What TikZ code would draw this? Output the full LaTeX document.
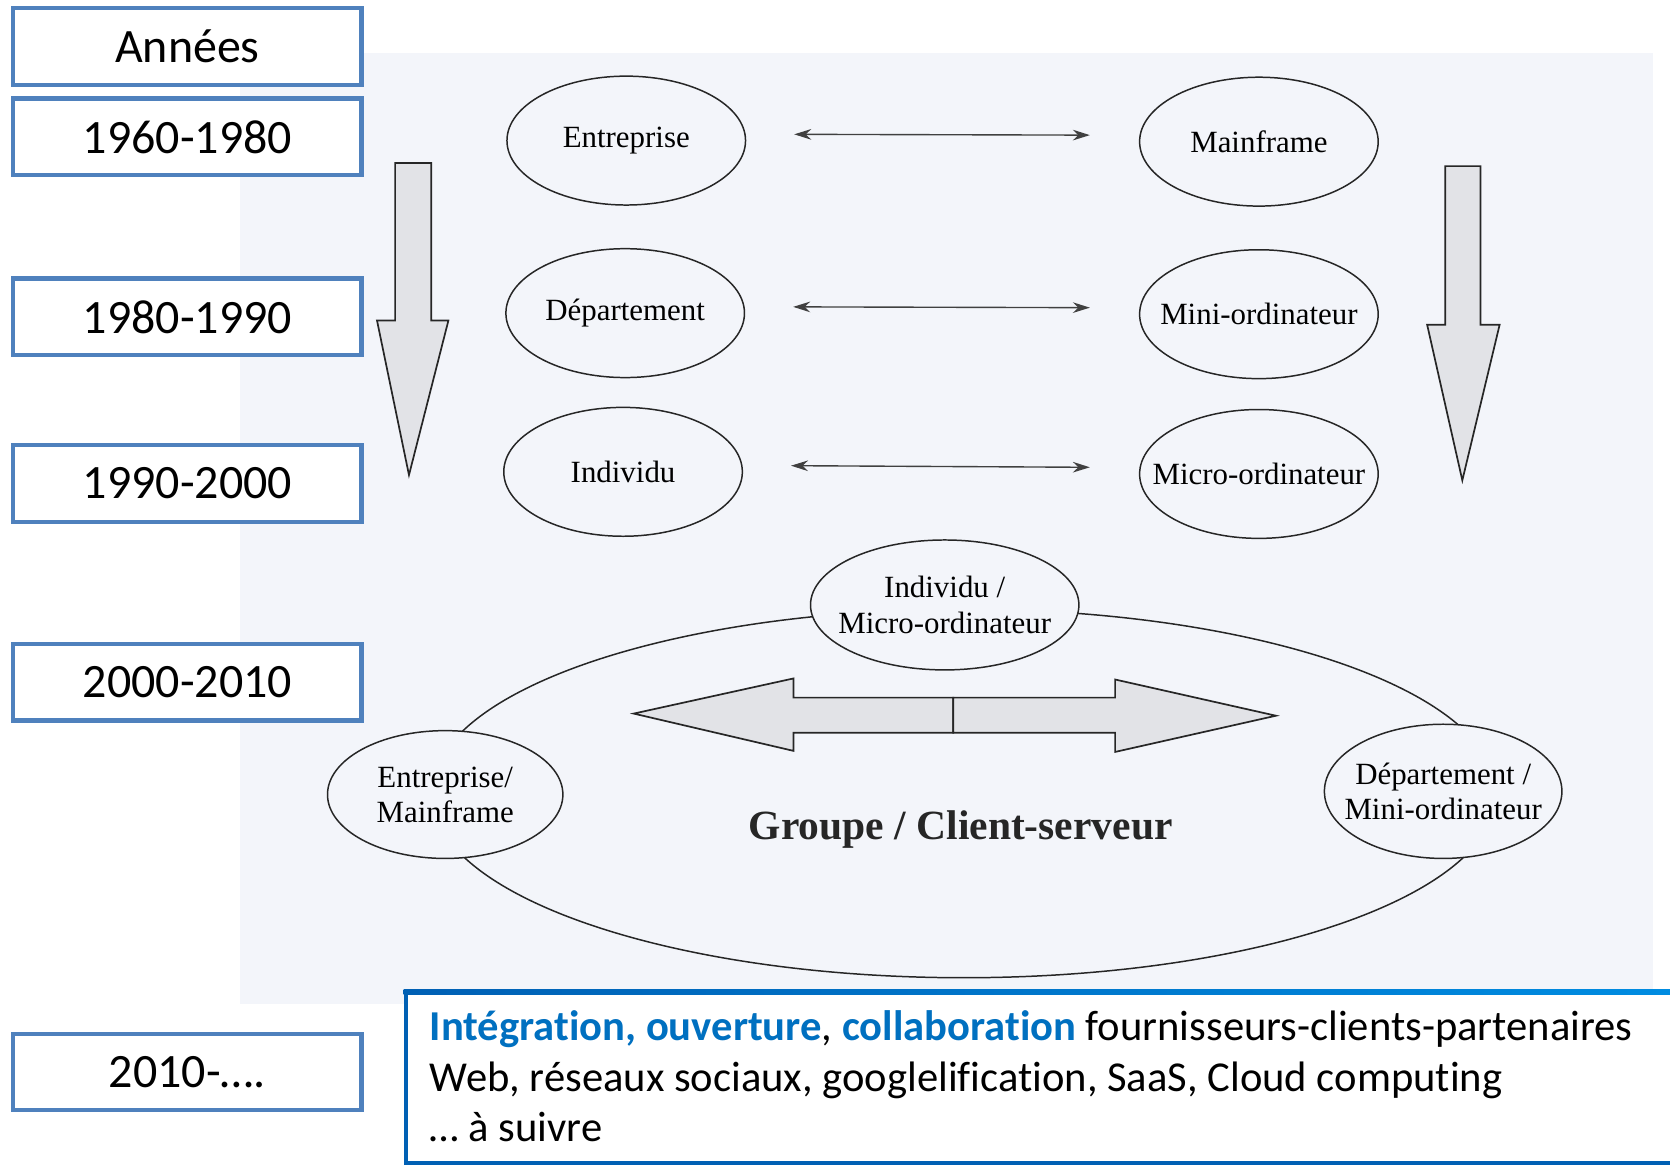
\documentclass[tikz,border=0pt]{standalone}
\usepackage{fontspec}
\setmainfont{Liberation Serif}
\newfontfamily\carlito[Ligatures=NoCommon]{Carlito}
\usetikzlibrary{positioning,arrows.meta,calc,shapes.geometric}
\definecolor{yearblue}{RGB}{79,129,189}
\definecolor{scanbg}{RGB}{243,245,250}
\definecolor{arrowgray}{RGB}{226,227,231}
\definecolor{keyblue}{RGB}{0,112,192}
\definecolor{framedark}{RGB}{0,96,180}
\definecolor{framelight}{RGB}{0,140,225}
\tikzset{
  year/.style={rectangle, draw=yearblue, line width=4pt, fill=white, minimum width=327pt, minimum height=72pt, font=\carlito\fontsize{45}{54}\selectfont},
  era/.style={ellipse, draw=black!85, line width=1.4pt, minimum width=224pt, minimum height=121pt, inner xsep=-30pt, inner ysep=0pt, font=\fontsize{29}{33}\selectfont, align=center},
  link/.style={{Stealth[length=16pt,width=10pt]}-{Stealth[length=16pt,width=10pt]}, line width=1.3pt, draw=black!75, shorten <=45pt, shorten >=46pt},
  bigarrow/.style={draw=black!85, line width=1.6pt, fill=arrowgray, line join=miter},
  trend/.style={anchor=base west, font=\carlito\fontsize{40}{48}\selectfont}
}

\begin{document}
\begin{tikzpicture}[x=1pt, y=-1pt]
      \useasboundingbox (0,0) rectangle (1568,1094);
      \fill[white] (0,0) rectangle (1568,1094);
      \fill[scanbg] (225,50) rectangle (1552,943);

      % years
      \node[year] (Annees) at (176,43.5) {Années};
      \node[year] (Y1960) at (176,128.5) {1960-1980};
      \node[year] (Y1980) at (176,297.5) {1980-1990};
      \node[year] (Y1990) at (176,454) {1990-2000};
      \node[year] (Y2000) at (176,640.5) {2000-2010};
      \node[year] (Y2010) at (176,1006.5) {2010-….};

      % organisation / machine pairs
      \node[era] (Ent) at (588,132) {Entreprise};
      \node[era] (Main) at (1182,133) {Mainframe};
      \node[era] (Dep) at (587,294) {Département};
      \node[era] (Mini) at (1182,295) {Mini-ordinateur};
      \node[era] (Ind) at (585,443) {Individu};
      \node[era] (Micro) at (1182,445) {Micro-ordinateur};
      \draw[link] ([yshift=6pt]Ent.east) -- ([yshift=6pt]Main.west);
      \draw[link] ([yshift=6pt]Dep.east) -- ([yshift=6pt]Mini.west);
      \draw[link] ([yshift=6pt]Ind.east) -- ([yshift=6pt]Micro.west);

      % time arrows
      \draw[bigarrow] (371,153) -- (405,153) -- (405,301) -- (421,301)
            -- (384,446) -- (354,301) -- (371,301) -- cycle;
      \draw[bigarrow] (1357,156) -- (1390,156) -- (1390,305) -- (1408,305)
            -- (1373,451) -- (1340,305) -- (1357,305) -- cycle;

      % client-server ring
      \node[ellipse, draw=black!85, line width=1.4pt, minimum width=1000pt, minimum height=346pt] (Ring) at (905,745) {};
      \node[era, fill=scanbg, minimum width=252pt, minimum height=122pt] (IndMicro) at (887,568) {Individu /\\Micro-ordinateur};
      \node[era, fill=scanbg, minimum width=221pt, minimum height=120pt] (EntMain) at (418,746) {Entreprise/\\Mainframe};
      \node[era, fill=scanbg, minimum width=223pt, minimum height=126pt] (DepMini) at (1355,743) {Département /\\Mini-ordinateur};
      \draw[bigarrow] (895,655) -- (745,655) -- (745,637) -- (595,670)
            -- (745,705) -- (745,688) -- (895,688) -- cycle;
      \draw[bigarrow] (895,655) -- (1047,655) -- (1047,638) -- (1198,672)
            -- (1047,706) -- (1047,688) -- (895,688) -- cycle;
      \node[anchor=base, font=\bfseries\fontsize{39}{44}\selectfont, text=black!85] (Groupe) at (902,788) {Groupe / Client-serveur};

      % today
      \fill[white] (381,931) rectangle (1568,1092);
      \draw[framedark, line width=4pt] (1568,1092) -- (381,1092) -- (381,931);
      \shade[left color=framedark, right color=framelight] (379,929) rectangle (1568,934);
      \node[trend] (Line1) at (400,977) {{\bfseries\color{keyblue}Intégration, ouverture}, {\bfseries\color{keyblue}collaboration} fournisseurs-clients-partenaires};
      \node[trend] (Line2) at (400,1025) {Web, réseaux sociaux, googlelification, SaaS, Cloud computing};
      \node[trend] (Line3) at (400,1072) {… à suivre};
\end{tikzpicture}
\end{document}
